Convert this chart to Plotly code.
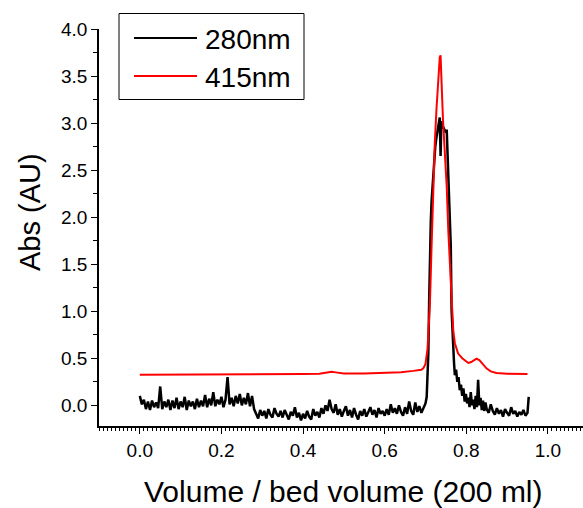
import plotly.graph_objects as go

# ---- data ----
vol_280 = [
    0.000, 0.005, 0.010, 0.015, 0.020, 0.025, 0.030, 0.035, 0.040, 0.045,
    0.050, 0.055, 0.060, 0.065, 0.070, 0.075, 0.080, 0.085, 0.090, 0.095,
    0.100, 0.105, 0.110, 0.115, 0.120, 0.125, 0.130, 0.135, 0.140, 0.145,
    0.150, 0.155, 0.160, 0.165, 0.170, 0.175, 0.180, 0.185, 0.190, 0.195,
    0.200, 0.205, 0.210, 0.215, 0.220, 0.225, 0.230, 0.235, 0.240, 0.245,
    0.250, 0.255, 0.260, 0.265, 0.270, 0.275, 0.280, 0.285, 0.290, 0.295,
    0.300, 0.305, 0.310, 0.315, 0.320, 0.325, 0.330, 0.335, 0.340, 0.345,
    0.350, 0.355, 0.360, 0.365, 0.370, 0.375, 0.380, 0.385, 0.390, 0.395,
    0.400, 0.405, 0.410, 0.415, 0.420, 0.425, 0.430, 0.435, 0.440, 0.445,
    0.450, 0.455, 0.460, 0.465, 0.470, 0.475, 0.480, 0.485, 0.490, 0.495,
    0.500, 0.505, 0.510, 0.515, 0.520, 0.525, 0.530, 0.535, 0.540, 0.545,
    0.550, 0.555, 0.560, 0.565, 0.570, 0.575, 0.580, 0.585, 0.590, 0.595,
    0.600, 0.605, 0.610, 0.615, 0.620, 0.625, 0.630, 0.635, 0.640, 0.645,
    0.650, 0.655, 0.660, 0.665, 0.670, 0.675, 0.680, 0.685, 0.690, 0.695,
    0.700, 0.703, 0.705, 0.707, 0.709, 0.711, 0.713, 0.715, 0.718, 0.721,
    0.724, 0.727, 0.730, 0.733, 0.735, 0.737, 0.739, 0.741, 0.744, 0.747,
    0.750, 0.752, 0.754, 0.756, 0.758, 0.760, 0.762, 0.764, 0.766, 0.768,
    0.770, 0.772, 0.775, 0.778, 0.781, 0.784, 0.787, 0.790, 0.793, 0.796,
    0.799, 0.802, 0.805, 0.808, 0.811, 0.814, 0.817, 0.820, 0.823, 0.826,
    0.829, 0.832, 0.835, 0.838, 0.841, 0.844, 0.847, 0.850,
    0.855, 0.860, 0.865, 0.870, 0.875, 0.880, 0.885, 0.890, 0.895, 0.900,
    0.905, 0.910, 0.915, 0.920, 0.925, 0.930, 0.935, 0.940, 0.945, 0.950,
    0.953,
]
abs_280 = [
    0.10, 0.01, 0.06, -0.04, 0.04, -0.05, 0.05, -0.02, 0.03, -0.03,
    0.20, -0.04, 0.04, -0.02, 0.06, -0.05, 0.05, -0.03, 0.08, -0.04,
    0.04, -0.02, 0.09, -0.05, 0.05, -0.01, 0.04, -0.04, 0.07, -0.02,
    0.05, -0.01, 0.11, -0.02, 0.07, 0.00, 0.14, -0.01, 0.06, 0.01,
    0.09, -0.02, 0.06, 0.30, 0.01, 0.08, -0.01, 0.10, 0.02, 0.12,
    0.00, 0.08, 0.01, 0.13, -0.01, 0.10, -0.04, -0.09, -0.14, -0.05,
    -0.11, -0.06, -0.14, -0.04, -0.10, -0.13, -0.03, -0.09, -0.12, -0.06,
    -0.13, -0.05, -0.10, -0.15, -0.07, -0.11, -0.02, -0.13, -0.08, -0.16,
    -0.09, -0.14, -0.06, -0.12, -0.15, -0.04, -0.11, -0.07, -0.13, -0.03,
    -0.09, 0.00, -0.06, 0.06, -0.04, -0.08, 0.01, -0.10, -0.04, -0.12,
    -0.06, -0.01, -0.11, -0.05, -0.13, -0.03, -0.10, -0.15, -0.06, -0.11,
    -0.04, -0.12, -0.07, -0.02, -0.10, -0.05, -0.13, -0.03, -0.09, -0.06,
    -0.11, -0.04, -0.10, 0.01, -0.08, -0.03, -0.09, 0.00, -0.07, -0.11,
    -0.02, -0.09, 0.04, -0.06, -0.10, 0.03, -0.07, -0.01, -0.08, -0.03,
    0.02, 0.09, 0.30, 0.55, 1.10, 1.69, 1.95, 2.17, 2.40, 2.55,
    2.75, 2.85, 2.95, 3.04, 3.06, 2.65, 3.02, 2.98, 2.95, 2.92,
    2.90, 2.93, 2.70, 2.58, 2.30, 2.08, 1.69, 1.01, 0.75, 0.55,
    0.45, 0.32, 0.38, 0.25, 0.30, 0.16, 0.22, 0.10, 0.18, 0.04,
    0.12, 0.02, 0.08, -0.02, 0.14, 0.00, 0.06, -0.04, 0.10, -0.02,
    0.27, 0.00, 0.08, -0.05, 0.05, -0.06, 0.03, -0.04,
    -0.08, 0.01, -0.06, -0.10, -0.03, -0.09, -0.05, -0.12, -0.04, -0.08,
    -0.11, -0.02, -0.09, -0.06, -0.12, -0.07, -0.10, -0.05, -0.11, -0.08,
    0.09,
]

vol_415 = [
    0.00, 0.05, 0.10, 0.15, 0.20, 0.25, 0.30, 0.35, 0.40, 0.44,
    0.46, 0.47, 0.48, 0.50, 0.55, 0.60, 0.64, 0.67, 0.69, 0.695,
    0.700, 0.705, 0.708, 0.711, 0.715, 0.719, 0.723, 0.727, 0.730, 0.733,
    0.735, 0.737, 0.739, 0.741, 0.743, 0.747, 0.752, 0.756, 0.760, 0.764,
    0.768, 0.772, 0.776, 0.780, 0.790, 0.800, 0.805, 0.812, 0.818, 0.825,
    0.832, 0.840, 0.850, 0.860, 0.874, 0.900, 0.930, 0.950,
]
abs_415 = [
    0.325, 0.325, 0.325, 0.327, 0.328, 0.330, 0.330, 0.331, 0.332, 0.336,
    0.350, 0.356, 0.350, 0.338, 0.338, 0.342, 0.352, 0.366, 0.378, 0.395,
    0.440, 0.600, 0.850, 1.090, 1.700, 2.330, 2.800, 3.150, 3.390, 3.600,
    3.700, 3.720, 3.550, 3.250, 3.030, 2.700, 2.330, 1.850, 1.440, 1.050,
    0.800, 0.660, 0.590, 0.550, 0.500, 0.460, 0.450, 0.460, 0.480, 0.495,
    0.480, 0.440, 0.390, 0.360, 0.343, 0.336, 0.333, 0.333,
]

series_names = ["280nm", "415nm"]
series_colors = ["#000000", "#ff0000"]

x_ticks = [0.0, 0.2, 0.4, 0.6, 0.8, 1.0]
y_ticks = [0.0, 0.5, 1.0, 1.5, 2.0, 2.5, 3.0, 3.5, 4.0]

FONT = "Liberation Sans, Arial, sans-serif"

fig = go.Figure()
fig.add_trace(go.Scatter(x=vol_280, y=abs_280, mode="lines", name=series_names[0],
                         line=dict(color=series_colors[0], width=2.5), showlegend=False))
fig.add_trace(go.Scatter(x=vol_415, y=abs_415, mode="lines", name=series_names[1],
                         line=dict(color=series_colors[1], width=2), showlegend=False))

L, T, B = 99, 29, 82
W, H = 583, 508
pw, ph = W - L, H - T - B


def px(xp):
    return (xp - L) / pw


def py(yp):
    return (H - B - yp) / ph


# manual legend (box, sample lines, labels)
shapes = [
    dict(type="rect", xref="paper", yref="paper", x0=px(119), x1=px(304),
         y0=py(99.5), y1=py(13.5), line=dict(color="black", width=1), fillcolor="white", layer="above"),
]
annotations = []
for i, (nm, col) in enumerate(zip(series_names, series_colors)):
    ypix = 38 + 38 * i
    shapes.append(dict(type="line", xref="paper", yref="paper", x0=px(134), x1=px(197),
                       y0=py(ypix), y1=py(ypix), line=dict(color=col, width=2), layer="above"))
    annotations.append(dict(xref="paper", yref="paper", x=px(203), y=py(ypix + 1), text=nm,
                            showarrow=False, xanchor="left", yanchor="middle",
                            font=dict(family=FONT, size=28, color="black")))

# axis titles
annotations.append(dict(xref="paper", yref="paper", x=px(343), y=py(491),
                        text="Volume / bed volume (200 ml)", showarrow=False,
                        xanchor="center", yanchor="middle",
                        font=dict(family=FONT, size=30, color="black")))
annotations.append(dict(xref="paper", yref="paper", x=px(30), y=py(212),
                        text="Abs (AU)", showarrow=False, textangle=-90,
                        xanchor="center", yanchor="middle",
                        font=dict(family=FONT, size=29, color="black")))

fig.update_layout(
    width=W, height=H,
    margin=dict(l=L, r=0, t=T, b=B),
    paper_bgcolor="white", plot_bgcolor="white",
    font=dict(family=FONT, color="black"),
    shapes=shapes, annotations=annotations,
    showlegend=False,
)
fig.update_xaxes(
    range=[-0.1, 1.086], showgrid=False, zeroline=False,
    showline=True, linecolor="black", linewidth=1.5,
    tickmode="array", tickvals=x_ticks, ticktext=[f"{v:.1f}" for v in x_ticks],
    ticks="outside", ticklen=6, tickwidth=1.2, tickcolor="black",
    tickfont=dict(family=FONT, size=19, color="black"),
    minor=dict(dtick=0.01, tick0=0, ticks="outside", ticklen=3, tickwidth=1, tickcolor="black", showgrid=False),
)
fig.update_yaxes(
    range=[-0.22, 4.0], showgrid=False, zeroline=False,
    showline=True, linecolor="black", linewidth=1.5,
    tickmode="array", tickvals=y_ticks, ticktext=[f"{v:.1f}" for v in y_ticks],
    ticks="outside", ticklen=6, tickwidth=1.2, tickcolor="black",
    tickfont=dict(family=FONT, size=19, color="black"),
    minor=dict(dtick=0.25, tick0=0, ticks="outside", ticklen=4, tickwidth=1, tickcolor="black", showgrid=False),
)

fig.write_html("out.html", config={"displayModeBar": False},
               post_script="document.body.style.margin='0px';document.body.style.overflow='hidden';")
